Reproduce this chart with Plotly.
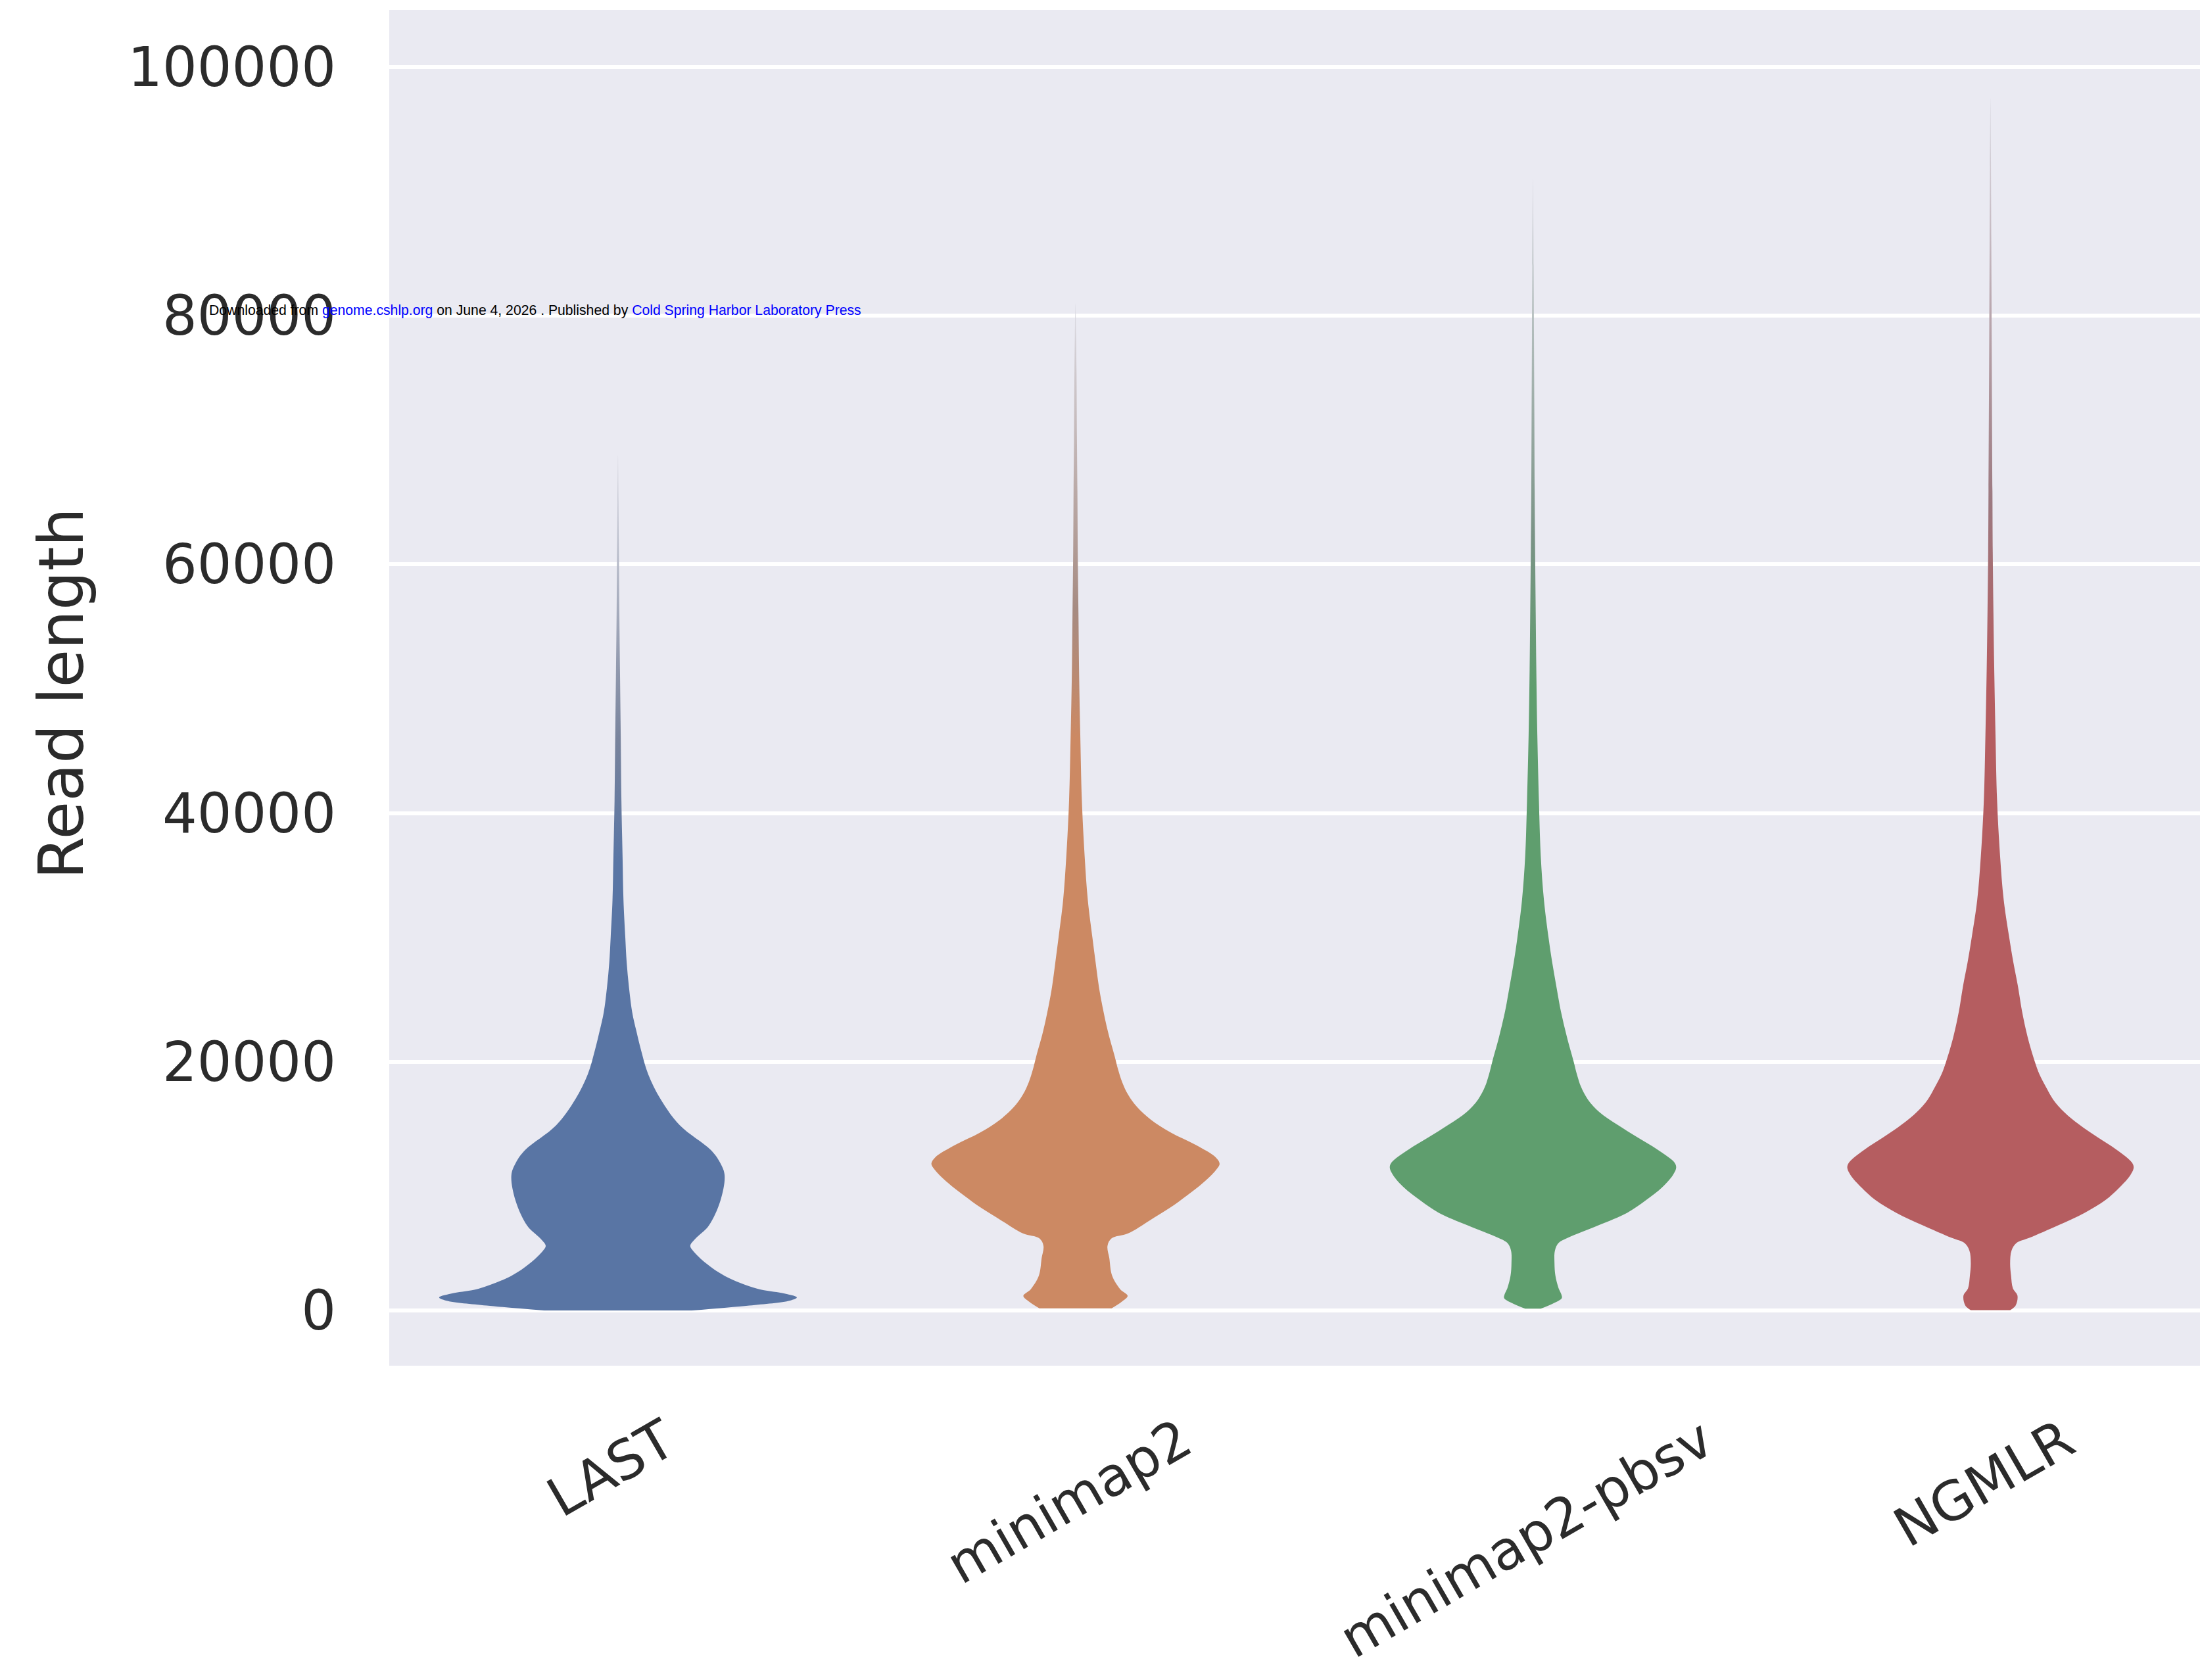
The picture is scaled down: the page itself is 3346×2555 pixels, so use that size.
import plotly.graph_objects as go

# Aligners compared
categories = ["LAST", "minimap2", "minimap2-pbsv", "NGMLR"]

# Read-length density profiles: length (bp) and violin half-width (category units)
last_len = [0, 400, 800, 1050, 1400, 1750, 2770, 3780, 4800, 5200, 5800, 6800, 8850,
            10900, 11900, 12900, 14900, 17000, 19000, 21000, 22500, 24000, 26000, 28000,
            30000, 33000, 36500, 41000, 46300, 51000, 56100, 62000, 68800]
last_hw = [0.161, 0.287, 0.376, 0.391, 0.359, 0.305, 0.234, 0.193, 0.164, 0.158, 0.170,
           0.198, 0.224, 0.233, 0.223, 0.203, 0.135, 0.093, 0.066, 0.050, 0.040, 0.031,
           0.024, 0.019, 0.016, 0.012, 0.010, 0.0075, 0.006, 0.0045, 0.003, 0.0018, 0.0]

mm2_len = [170, 700, 1180, 1700, 2800, 4200, 5200, 5800, 6200, 7240, 8250, 9260, 10270,
           11290, 11790, 12300, 13310, 14320, 15340, 16350, 17360, 18370, 19390, 20400,
           22420, 24450, 26090, 28000, 30000, 33000, 36560, 41000, 46300, 51000, 56100,
           61000, 65900, 70000, 75700, 81000]
mm2_hw = [0.079, 0.101, 0.114, 0.098, 0.080, 0.074, 0.070, 0.079, 0.115, 0.162, 0.206,
          0.244, 0.279, 0.307, 0.315, 0.307, 0.263, 0.208, 0.165, 0.135, 0.115, 0.102,
          0.093, 0.086, 0.071, 0.059, 0.051, 0.044, 0.037, 0.027, 0.020, 0.014, 0.0105,
          0.008, 0.0065, 0.005, 0.0042, 0.0032, 0.0022, 0.0]

pbsv_len = [150, 550, 1000, 1300, 1790, 2800, 3810, 4820, 5430, 5840, 6850, 7860, 8870,
            9890, 10900, 11500, 11910, 12920, 13930, 14950, 15960, 16970, 17990, 19000,
            20010, 22030, 24060, 26090, 28000, 30000, 33000, 36560, 41000, 46300, 51000,
            56100, 61000, 65900, 72000, 78200, 84000, 91000]
pbsv_hw = [0.017, 0.043, 0.063, 0.062, 0.056, 0.049, 0.047, 0.048, 0.056, 0.076, 0.143,
           0.206, 0.247, 0.282, 0.306, 0.313, 0.309, 0.273, 0.228, 0.184, 0.145, 0.120,
           0.105, 0.096, 0.089, 0.074, 0.061, 0.051, 0.042, 0.034, 0.024, 0.017, 0.013,
           0.0095, 0.0075, 0.006, 0.0047, 0.0037, 0.003, 0.0022, 0.0015, 0.0]

ngmlr_len = [30, 400, 1200, 1790, 2800, 3810, 4820, 5430, 5840, 6850, 7860, 8870, 9890,
             10900, 11500, 11910, 12920, 13930, 14950, 15960, 16970, 17990, 19000, 20010,
             22030, 24060, 26090, 28000, 30000, 33000, 36560, 41000, 46300, 51000, 56100,
             61000, 65900, 75700, 86000, 97500]
ngmlr_hw = [0.043, 0.055, 0.059, 0.049, 0.045, 0.043, 0.046, 0.057, 0.085, 0.148, 0.206,
            0.251, 0.282, 0.306, 0.313, 0.309, 0.276, 0.234, 0.194, 0.161, 0.137, 0.121,
            0.107, 0.097, 0.081, 0.069, 0.060, 0.050, 0.041, 0.029, 0.021, 0.0145, 0.011,
            0.0085, 0.0065, 0.005, 0.0043, 0.003, 0.0018, 0.0]

y_ticks = [0, 20000, 40000, 60000, 80000, 100000]

# Styling
colors = [(89, 117, 164), (204, 137, 99), (95, 158, 110), (181, 93, 96)]
fade_from = [36000, 46000, 50000, 51000]   # where the thin upper tail starts to fade
BG = (234, 234, 242)
TEXT = "#2b2b2b"
FONT = "DejaVu Sans"

profiles = [(last_len, last_hw), (mm2_len, mm2_hw), (pbsv_len, pbsv_hw), (ngmlr_len, ngmlr_hw)]


def rgb(c):
    return "rgb(%d,%d,%d)" % tuple(int(round(v)) for v in c)


def mix(a, b, t):
    return tuple(a[k] * (1 - t) + b[k] * t for k in range(3))


fig = go.Figure()

for i, (lens, hws) in enumerate(profiles):
    xs = [i + w for w in hws] + [i - w for w in reversed(hws[:-1])]
    ys = list(lens) + list(reversed(lens[:-1]))
    top = max(lens)
    c = colors[i]
    f0 = fade_from[i] / top
    f1 = f0 + (1 - f0) * 0.3
    mid = mix(c, (140, 140, 150), 0.6)
    end = mix(BG, (190, 190, 200), 0.35)
    fig.add_trace(go.Scatter(
        x=xs, y=ys, mode="lines", fill="toself",
        line=dict(width=0, shape="spline", smoothing=1.0, color=rgb(c)),
        fillcolor=rgb(c),
        fillgradient=dict(type="vertical", start=0, stop=top,
                          colorscale=[[0, rgb(c)], [f0, rgb(c)], [f1, rgb(mid)], [1, rgb(end)]]),
        hoverinfo="skip", showlegend=False,
    ))

# Category labels, rotated and centred under each violin
for i, name in enumerate(categories):
    fig.add_annotation(
        x=i, xref="x", y=-0.029, yref="paper", text=name, showarrow=False,
        textangle=-30, xanchor="center", yanchor="top", xshift=-10,
        font=dict(family=FONT, size=82, color=TEXT),
    )

# Y axis title
fig.add_annotation(
    x=-0.181, xref="paper", y=0.4956, yref="paper", text="Read length",
    showarrow=False, textangle=-90, xanchor="center", yanchor="middle",
    font=dict(family=FONT, size=94, color=TEXT),
)

# Publisher download stamp
fig.add_annotation(
    x=-0.1002, xref="paper", y=0.7784, yref="paper", showarrow=False,
    xanchor="left", yanchor="middle",
    text=("Downloaded from <span style='color:#0000ff'>genome.cshlp.org</span> on June 4, 2026 . "
          "Published by <span style='color:#0000ff'>Cold Spring Harbor Laboratory Press</span>"),
    font=dict(family="Liberation Sans", size=21.2, color="#000000"),
)

fig.update_layout(
    width=3346, height=2555,
    margin=dict(l=592, r=0, t=15, b=478),
    paper_bgcolor="white", plot_bgcolor=rgb(BG),
    showlegend=False,
)
fig.update_xaxes(
    range=[-0.5, 3.458], showgrid=False, zeroline=False, showticklabels=False,
    ticks="", showline=False, fixedrange=True,
)
fig.update_yaxes(
    range=[-4440, 104600], tickvals=y_ticks, ticktext=[str(v) for v in y_ticks],
    showgrid=True, gridcolor="white", gridwidth=6, zeroline=False, showline=False,
    ticks="", ticklabelstandoff=80,
    tickfont=dict(family=FONT, size=83, color=TEXT),
)

fig.write_html("out.html")
